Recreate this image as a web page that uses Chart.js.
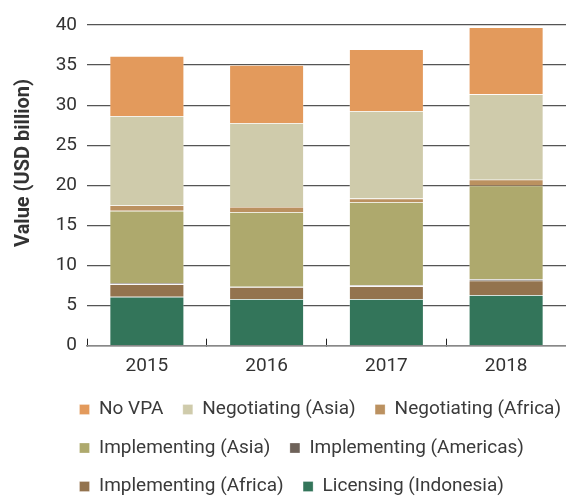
<!DOCTYPE html>
<html>
<head>
<meta charset="utf-8">
<script src="https://cdn.jsdelivr.net/npm/chart.js@4/dist/chart.umd.min.js"></script>
<style>
  body {margin: 0; background: #fff;}
  #wrap {width: 566px; height: 496px;}
</style>
</head>
<body>
<div id="wrap"><canvas id="vpa_chart"></canvas></div>
<script>
const years = ['2015', '2016', '2017', '2018'];
const licensing_indonesia = [6.1, 5.8, 5.8, 6.3];
const implementing_africa = [1.55, 1.5, 1.6, 1.8];
const implementing_americas = [0.17, 0.05, 0.15, 0.2];
const implementing_asia = [9.0, 9.3, 10.35, 11.65];
const negotiating_africa = [0.67, 0.65, 0.45, 0.75];
const negotiating_asia = [11.13, 10.45, 10.9, 10.65];
const no_vpa = [7.5, 7.25, 7.7, 8.35];
const y_ticks = [0, 5, 10, 15, 20, 25, 30, 35, 40];

const font_family = "Roboto, 'Liberation Sans', sans-serif";

// nudge legend so rows start under the plot, like the original
const legend_shift = {
  id: 'legend_shift',
  afterLayout(chart) {
    chart.legend.left += 60;
    chart.legend.right += 60;
    chart.legend.top -= 13;
    chart.legend.bottom -= 13;
  }
};

const vpa_chart = document.getElementById('vpa_chart');
new Chart(vpa_chart, {
  type: 'bar',
  data: {
    labels: years,
    datasets: [
      {label: 'Licensing (Indonesia)', data: licensing_indonesia, backgroundColor: '#33755a'},
      {label: 'Implementing (Africa)', data: implementing_africa, backgroundColor: '#93734e'},
      {label: 'Implementing (Americas)', data: implementing_americas, backgroundColor: '#6e6259'},
      {label: 'Implementing (Asia)', data: implementing_asia, backgroundColor: '#aea96d'},
      {label: 'Negotiating (Africa)', data: negotiating_africa, backgroundColor: '#bb9160'},
      {label: 'Negotiating (Asia)', data: negotiating_asia, backgroundColor: '#cfcbab'},
      {label: 'No VPA', data: no_vpa, backgroundColor: '#e39a5c'},
    ]
  },
  plugins: [legend_shift],
  options: {
    responsive: true,
    maintainAspectRatio: false,
    animation: false,
    barPercentage: 0.62,
    categoryPercentage: 1,
    borderWidth: 0.6,
    borderColor: 'rgba(255,255,255,0.45)',
    layout: {padding: {top: 25, right: 0, bottom: -23, left: 0}},
    plugins: {
      legend: {
        position: 'bottom',
        align: 'start',
        reverse: true,
        labels: {
          boxWidth: 10,
          boxHeight: 10,
          padding: 19.5,
          color: '#3a3a3a',
          font: {family: font_family, size: 19}
        }
      },
      tooltip: {enabled: false}
    },
    scales: {
      x: {
        stacked: true,
        offset: true,
        grid: {
          offset: true,
          drawOnChartArea: false,
          drawTicks: true,
          tickLength: -7,
          color: '#222',
          lineWidth: 1
        },
        border: {display: true, color: '#888', width: 1.5},
        ticks: {
          color: '#333',
          padding: 16,
          font: {family: font_family, size: 19}
        }
      },
      y: {
        stacked: true,
        min: 0,
        max: 40,
        afterBuildTicks(scale) {
          scale.ticks = y_ticks.map(v => ({value: v}));
        },
        afterFit(scale) {
          scale.width = 87;
        },
        grid: {
          drawTicks: false,
          color: '#555',
          lineWidth: 1.2
        },
        border: {display: false},
        ticks: {
          color: '#333',
          padding: 10,
          font: {family: font_family, size: 19}
        },
        title: {
          display: true,
          // leading spaces lift the label a little above the axis middle, as in the original
          text: '         Value (USD billion)',
          color: '#333',
          padding: {top: 12, bottom: 0},
          font: {family: font_family, size: 20, weight: 'bold'}
        }
      }
    }
  }
});
</script>
</body>
</html>
